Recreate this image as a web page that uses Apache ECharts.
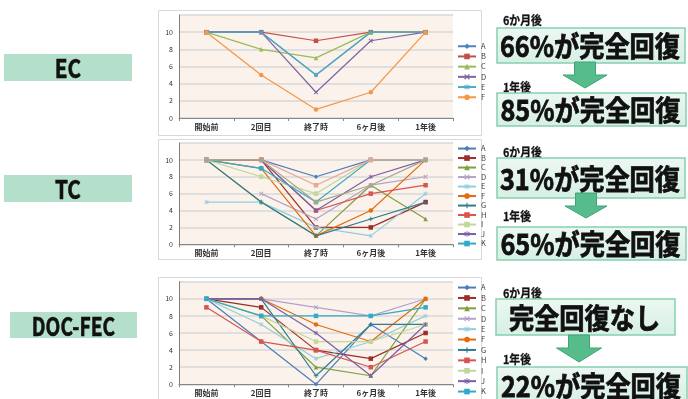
<!DOCTYPE html>
<html>
<head>
<meta charset="utf-8">
<script src="https://cdn.jsdelivr.net/npm/echarts@6/dist/echarts.min.js"></script>
<style>
  html, body { margin: 0; padding: 0; background: #ffffff; }
  #page { position: relative; width: 688px; height: 399px; overflow: hidden; }
  .layer { position: absolute; }
</style>
</head>
<body>
<div id="page">
  <div id="bg" class="layer" style="left:0;top:0;width:688px;height:399px;"></div>
  <div id="c1" class="layer" style="left:158px;top:10px;width:340px;height:125px;"></div>
  <div id="c2" class="layer" style="left:158px;top:139px;width:340px;height:120px;"></div>
  <div id="c3" class="layer" style="left:158px;top:277px;width:340px;height:122px;"></div>
</div>
<script>
// ---- data ----
const categories = ['開始前', '2回目', '終了時', '6ヶ月後', '1年後'];
const patientNamesEC = ['A', 'B', 'C', 'D', 'E', 'F'];
const patientNames = ['A', 'B', 'C', 'D', 'E', 'F', 'G', 'H', 'I', 'J', 'K'];
const extraNamesTC = ['L', 'M'];   // plotted but not listed in the legend
const yTickMax = 12;
const yTickStep = 2;

// EC group scores per visit
const ecScores = [
  [10, 10, 5, 10, 10],
  [10, 10, 9, 10, 10],
  [10, 8, 7, 10, 10],
  [10, 10, 3, 9, 10],
  [10, 10, 5, 10, 10],
  [10, 5, 1, 3, 10]
];
// TC group scores per visit
const tcScores = [
  [10, 10, 8, 10, 10],
  [10, 10, 2, 2, 5],
  [10, 5, 1, 7, 3],
  [null, 6, 3, 7, 8],
  [5, 5, 2, 1, 6],
  [10, 9, 1, 4, 10],
  [10, 5, 1, 3, 5],
  [10, 10, 4, 6, 7],
  [10, 8, 6, 10, 10],
  [10, 10, 4, 8, 10],
  [10, 9, 5, 10, 10],
  [10, 10, 7, 10, 10],
  [10, 10, 5, 7, 10]
];
// DOC-FEC group scores per visit
const docScores = [
  [10, 5, 0, 7, 3],
  [10, 9, 4, 3, 6],
  [10, 8, 2, 1, 10],
  [10, 10, 9, 8, 10],
  [10, 7, 3, 5, 8],
  [10, 10, 7, 5, 10],
  [10, 10, 1, 7, 7],
  [9, 5, 4, 2, 5],
  [10, 8, 5, 5, 7],
  [10, 10, 6, 1, 7],
  [10, 8, 8, 8, 9]
];

const groupLabels = ['EC', 'TC', 'DOC-FEC'];
const halfYearLabel = '6か月後';
const oneYearLabel = '1年後';
const outcomeHalfYear = ['66%が完全回復', '31%が完全回復', '完全回復なし'];
const outcomeOneYear = ['85%が完全回復', '65%が完全回復', '22%が完全回復'];

// ---- styles ----
const ecColors = ['#4F81BD', '#C0504D', '#9BBB59', '#8064A2', '#4BACC6', '#F79646'];
const multiColors = ['#4A7EBB', '#9B2D2A', '#7EA03E', '#B3A2C7', '#93CDDD', '#E46C0A',
                     '#2F7C8E', '#D9534F', '#C3D69B', '#7B5EA7', '#31A9C8',
                     '#E6A796', '#A6A68A'];
const X_MARK = 'path://M0,1.5L1.5,0L5,3.5L8.5,0L10,1.5L6.5,5L10,8.5L8.5,10L5,6.5L1.5,10L0,8.5L3.5,5Z';
const PLUS_MARK = 'path://M4,0H6V4H10V6H6V10H4V6H0V4H4Z';
const DASH_MARK = 'path://M0,4H10V6H0Z';
const STAR_MARK = 'path://M4.2,0H5.8V3.6L8.6,1L9.7,2.1L6.6,5L9.7,7.9L8.6,9L5.8,6.4V10H4.2V6.4L1.4,9L0.3,7.9L3.4,5L0.3,2.1L1.4,1L4.2,3.6Z';
const markers = ['diamond', 'rect', 'triangle', X_MARK, STAR_MARK, 'circle',
                 PLUS_MARK, DASH_MARK, DASH_MARK, STAR_MARK, 'rect', 'rect', 'circle'];

function lineChart(el, names, scores, colors, geo) {
  const chart = echarts.init(document.getElementById(el), null, { renderer: 'canvas' });
  chart.setOption({
    animation: false,
    textStyle: { fontFamily: '"Noto Sans CJK JP", "Noto Sans", sans-serif' },
    grid: {
      left: 21, top: geo.top, width: 274, height: geo.height,
      show: true, backgroundColor: '#FAF2EB', borderWidth: 0
    },
    legend: {
      orient: 'vertical', left: 299, top: geo.legendTop,
      itemWidth: 18, itemHeight: 7, itemGap: geo.legendGap, padding: 0,
      textStyle: { fontSize: 7.5, color: '#404040', lineHeight: 7 },
      data: geo.legendNames
    },
    xAxis: {
      type: 'category', data: categories, boundaryGap: true,
      axisLine: { lineStyle: { color: '#868686', width: 1 } },
      axisTick: { show: true, length: 3, lineStyle: { color: '#868686' } },
      axisLabel: { fontSize: 8, color: '#333333', fontWeight: 'bold', margin: 5 }
    },
    yAxis: {
      type: 'value', min: 0, max: yTickMax, interval: yTickStep,
      axisLine: { show: true, lineStyle: { color: '#7F7F7F', width: 1 } },
      axisTick: { show: false },
      axisLabel: { fontSize: 7, color: '#333333', margin: 6,
                   formatter: v => (v === yTickMax ? '' : String(v)) },
      splitLine: { lineStyle: { color: '#D9D9D9', width: 1.5 } }
    },
    series: names.map((n, i) => ({
      name: n, type: 'line', data: scores[i],
      symbol: markers[i], symbolSize: 4.5,
      connectNulls: false,
      lineStyle: { width: 1.2, color: colors[i] },
      itemStyle: { color: colors[i], borderWidth: 0 },
      z: 2 + i
    }))
  });
}

lineChart('c1', patientNamesEC, ecScores, ecColors,
  { top: 5, height: 103, legendTop: 32.5, legendGap: 2.7, legendNames: patientNamesEC });
lineChart('c2', patientNames.concat(extraNamesTC), tcScores, multiColors,
  { top: 4, height: 101.3, legendTop: 5.8, legendGap: 2.0, legendNames: patientNames });
lineChart('c3', patientNames, docScores, multiColors,
  { top: 4.7, height: 102.6, legendTop: 6.8, legendGap: 2.9, legendNames: patientNames });

// ---- labels, outcome boxes and arrows ----
const bg = echarts.init(document.getElementById('bg'), null, { renderer: 'canvas' });
const JP = '"Noto Sans CJK JP", "Noto Sans", sans-serif';
const boxFill = new echarts.graphic.LinearGradient(0, 0, 0, 1, [
  { offset: 0, color: '#ECF8F2' }, { offset: 1, color: '#D6EFE4' }
]);

function frame(y, h) {
  return { type: 'rect', shape: { x: 158.5, y: y + 0.5, width: 323, height: h },
           style: { fill: '#ffffff', stroke: '#D9D9D9', lineWidth: 1 } };
}
function groupTag(x, y, w, h, label, scale) {
  return [
    { type: 'rect', shape: { x: x, y: y, width: w, height: h }, style: { fill: '#B3DFCB' } },
    { type: 'text', x: x + w / 2, y: y + h / 2 + 1, scaleX: scale,
      style: { text: label, fill: '#111111', stroke: '#111111', lineWidth: 0.6,
               font: 'bold 26px ' + JP, align: 'center', verticalAlign: 'middle' } }
  ];
}
function outcomeBox(x, y, w, h, label) {
  return [
    { type: 'rect', shape: { x: x, y: y, width: w, height: h },
      style: { fill: boxFill, stroke: '#86CFAE', lineWidth: 1.5 } },
    { type: 'text', x: x + w / 2 - 1, y: y + h / 2 + 1, scaleX: 0.9,
      style: { text: label, fill: '#111111', stroke: '#111111', lineWidth: 0.8,
               font: 'bold 28px ' + JP, align: 'center', verticalAlign: 'middle' } }
  ];
}
function smallLabel(y, label) {
  return { type: 'text', x: 503, y: y, scaleX: 0.9,
           style: { text: label, fill: '#111111', stroke: '#111111', lineWidth: 0.3,
                    font: 'bold 12px ' + JP, align: 'left', verticalAlign: 'middle' } };
}
function downArrow(cx, top, bottom, shaftW, headW, headH) {
  const hs = shaftW / 2, hh = headW / 2, neck = bottom - headH;
  return { type: 'polygon',
    shape: { points: [[cx - hs, top], [cx + hs, top], [cx + hs, neck], [cx + hh, neck],
                      [cx, bottom], [cx - hh, neck], [cx - hs, neck]] },
    style: { fill: '#57BC8C', stroke: '#3FA476', lineWidth: 1 } };
}

const elements = [
  frame(10, 125), frame(139, 120), frame(277, 125),
  ...groupTag(4, 54, 128, 27, groupLabels[0], 0.8),
  ...groupTag(4, 175, 128, 27, groupLabels[1], 0.8),
  ...groupTag(10, 312, 127, 26, groupLabels[2], 0.74),
  smallLabel(20, halfYearLabel),
  ...outcomeBox(497, 28, 188, 35, outcomeHalfYear[0]),
  downArrow(585, 62, 88, 21, 44, 13),
  smallLabel(87, oneYearLabel),
  ...outcomeBox(497, 93, 189, 33, outcomeOneYear[0]),
  smallLabel(152, halfYearLabel),
  ...outcomeBox(497, 158, 188, 40, outcomeHalfYear[1]),
  downArrow(586, 193, 218, 21, 42, 12),
  smallLabel(216, oneYearLabel),
  ...outcomeBox(497, 227, 189, 33, outcomeOneYear[1]),
  smallLabel(293, halfYearLabel),
  ...outcomeBox(496, 299, 179, 36, outcomeHalfYear[2]),
  downArrow(579, 335, 362, 21, 45, 14),
  smallLabel(359, oneYearLabel),
  ...outcomeBox(497, 367, 190, 36, outcomeOneYear[2])
];
bg.setOption({ animation: false, graphic: { elements: elements } });
</script>
</body>
</html>
